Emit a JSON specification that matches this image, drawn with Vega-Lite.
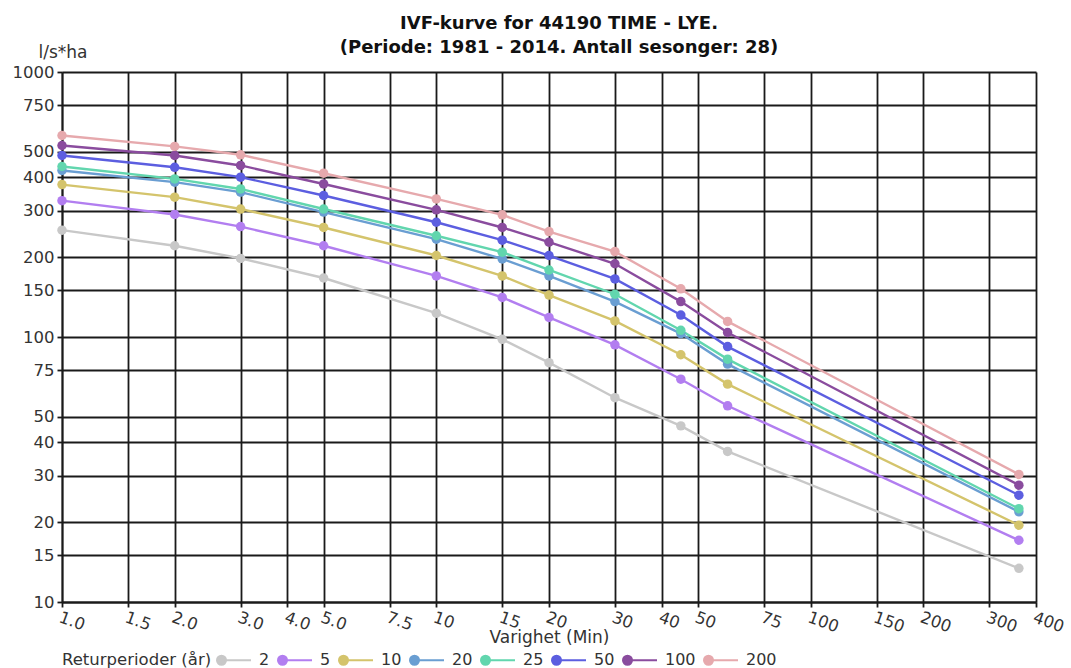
{
  "$schema": "https://vega.github.io/schema/vega-lite/v6.json",
  "width": 974,
  "height": 530,
  "autosize": {"type": "none"},
  "padding": {"left": 62, "top": 72, "right": 35, "bottom": 66},
  "background": "white",
  "title": {
    "text": ["IVF-kurve for 44190 TIME - LYE.", "(Periode: 1981 - 2014. Antall sesonger: 28)"],
    "anchor": "middle",
    "dx": 10,
    "offset": -14,
    "font": "DejaVu Sans",
    "fontSize": 18,
    "fontWeight": "bold",
    "color": "#111",
    "lineHeight": 24
  },
  "data": {
    "values": [
      {"d": 1, "rp": 2, "v": 253}, {"d": 2, "rp": 2, "v": 221}, {"d": 3, "rp": 2, "v": 198}, {"d": 5, "rp": 2, "v": 167}, {"d": 10, "rp": 2, "v": 123}, {"d": 15, "rp": 2, "v": 98}, {"d": 20, "rp": 2, "v": 80}, {"d": 30, "rp": 2, "v": 59}, {"d": 45, "rp": 2, "v": 46.2}, {"d": 60, "rp": 2, "v": 37}, {"d": 360, "rp": 2, "v": 13.4},
      {"d": 1, "rp": 5, "v": 327}, {"d": 2, "rp": 5, "v": 290}, {"d": 3, "rp": 5, "v": 261}, {"d": 5, "rp": 5, "v": 221}, {"d": 10, "rp": 5, "v": 170}, {"d": 15, "rp": 5, "v": 141}, {"d": 20, "rp": 5, "v": 118.5}, {"d": 30, "rp": 5, "v": 93.4}, {"d": 45, "rp": 5, "v": 69.3}, {"d": 60, "rp": 5, "v": 55}, {"d": 360, "rp": 5, "v": 17.1},
      {"d": 1, "rp": 10, "v": 376}, {"d": 2, "rp": 10, "v": 337}, {"d": 3, "rp": 10, "v": 304}, {"d": 5, "rp": 10, "v": 259}, {"d": 10, "rp": 10, "v": 203}, {"d": 15, "rp": 10, "v": 170}, {"d": 20, "rp": 10, "v": 144}, {"d": 30, "rp": 10, "v": 115}, {"d": 45, "rp": 10, "v": 85.7}, {"d": 60, "rp": 10, "v": 66.4}, {"d": 360, "rp": 10, "v": 19.5},
      {"d": 1, "rp": 20, "v": 425}, {"d": 2, "rp": 20, "v": 384}, {"d": 3, "rp": 20, "v": 352}, {"d": 5, "rp": 20, "v": 296}, {"d": 10, "rp": 20, "v": 234}, {"d": 15, "rp": 20, "v": 197}, {"d": 20, "rp": 20, "v": 170}, {"d": 30, "rp": 20, "v": 136}, {"d": 45, "rp": 20, "v": 103}, {"d": 60, "rp": 20, "v": 79}, {"d": 360, "rp": 20, "v": 21.9},
      {"d": 1, "rp": 25, "v": 440}, {"d": 2, "rp": 25, "v": 395}, {"d": 3, "rp": 25, "v": 362}, {"d": 5, "rp": 25, "v": 304}, {"d": 10, "rp": 25, "v": 241}, {"d": 15, "rp": 25, "v": 209}, {"d": 20, "rp": 25, "v": 179}, {"d": 30, "rp": 25, "v": 145}, {"d": 45, "rp": 25, "v": 106}, {"d": 60, "rp": 25, "v": 82.5}, {"d": 360, "rp": 25, "v": 22.5},
      {"d": 1, "rp": 50, "v": 484}, {"d": 2, "rp": 50, "v": 437}, {"d": 3, "rp": 50, "v": 401}, {"d": 5, "rp": 50, "v": 342}, {"d": 10, "rp": 50, "v": 271}, {"d": 15, "rp": 50, "v": 232}, {"d": 20, "rp": 50, "v": 203}, {"d": 30, "rp": 50, "v": 165.6}, {"d": 45, "rp": 50, "v": 121}, {"d": 60, "rp": 50, "v": 92}, {"d": 360, "rp": 50, "v": 25.3},
      {"d": 1, "rp": 100, "v": 528}, {"d": 2, "rp": 100, "v": 484}, {"d": 3, "rp": 100, "v": 444}, {"d": 5, "rp": 100, "v": 378}, {"d": 10, "rp": 100, "v": 302}, {"d": 15, "rp": 100, "v": 259}, {"d": 20, "rp": 100, "v": 228}, {"d": 30, "rp": 100, "v": 189}, {"d": 45, "rp": 100, "v": 136}, {"d": 60, "rp": 100, "v": 104}, {"d": 360, "rp": 100, "v": 27.6},
      {"d": 1, "rp": 200, "v": 576}, {"d": 2, "rp": 200, "v": 524}, {"d": 3, "rp": 200, "v": 487}, {"d": 5, "rp": 200, "v": 415}, {"d": 10, "rp": 200, "v": 332}, {"d": 15, "rp": 200, "v": 289}, {"d": 20, "rp": 200, "v": 250}, {"d": 30, "rp": 200, "v": 210}, {"d": 45, "rp": 200, "v": 152}, {"d": 60, "rp": 200, "v": 114.5}, {"d": 360, "rp": 200, "v": 30.3}
    ]
  },
  "mark": {"type": "line", "strokeWidth": 2.4, "point": {"filled": true, "size": 90, "opacity": 1}},
  "encoding": {
    "x": {
      "field": "d", "type": "quantitative",
      "scale": {"type": "log", "domain": [1, 400], "nice": false},
      "axis": {
        "values": [1, 1.5, 2, 3, 4, 5, 7.5, 10, 15, 20, 30, 40, 50, 75, 100, 150, 200, 300, 400],
        "labelExpr": "datum.value < 10 ? format(datum.value, '.1f') : format(datum.value, 'd')",
        "title": "Varighet  (Min)",
        "titleY": 35,
        "titleBaseline": "middle",
        "titleX": 487,
        "labelAngle": 20,
        "labelAlign": "left",
        "labelBaseline": "top",
        "labelPadding": 2,
        "labelOverlap": false,
        "labelFlush": false
      }
    },
    "y": {
      "field": "v", "type": "quantitative",
      "scale": {"type": "log", "domain": [10, 1000], "nice": false},
      "axis": {
        "values": [10, 15, 20, 30, 40, 50, 75, 100, 150, 200, 300, 400, 500, 750, 1000],
        "format": "d",
        "title": "l/s*ha",
        "titleAngle": 0,
        "titleAlign": "left",
        "titleBaseline": "bottom",
        "titleX": -24,
        "titleY": -11,
        "labelPadding": 3,
        "labelOverlap": false
      }
    },
    "color": {
      "field": "rp", "type": "ordinal",
      "scale": {
        "domain": [2, 5, 10, 20, 25, 50, 100, 200],
        "range": ["#c8c8c8", "#b27ef0", "#d4c46c", "#6a9ed2", "#62d6ae", "#5c5ee0", "#8a4c9e", "#e6a9ad"]
      },
      "legend": {
        "orient": "none",
        "legendX": 0,
        "legendY": 570,
        "direction": "horizontal",
        "title": "Returperioder (år)",
        "titleOrient": "left",
        "titleBaseline": "middle",
        "titleAnchor": "middle",
        "titlePadding": 4,
        "padding": 0,
        "symbolType": "M-1,0 A0.265,0.265 0 1,0 -0.47,0 A0.265,0.265 0 1,0 -1,0 Z M-0.47,0 L1,0",
        "symbolSize": 1156,
        "symbolStrokeWidth": 2,
        "labelOffset": 7,
        "columnPadding": 3,
        "encode": {
          "title": {
            "update": {"dy": {"value": 5}}
          },
          "symbols": {
            "update": {
              "fill": {"scale": "color", "field": "value"},
              "stroke": {"scale": "color", "field": "value"},
              "opacity": {"value": 1}
            }
          }
        }
      }
    }
  },
  "config": {
    "font": "DejaVu Sans",
    "view": {"stroke": null},
    "axis": {
      "grid": true,
      "gridColor": "#1a1a1a",
      "gridWidth": 1.8,
      "gridOpacity": 1,
      "domainColor": "#1a1a1a",
      "domainWidth": 1.8,
      "tickColor": "#1a1a1a",
      "tickWidth": 1.8,
      "tickSize": 5,
      "labelFont": "DejaVu Sans",
      "labelFontSize": 16.5,
      "labelColor": "#333",
      "titleFont": "DejaVu Sans",
      "titleFontSize": 17,
      "titleFontWeight": "normal",
      "titleColor": "#333"
    },
    "legend": {
      "labelFont": "DejaVu Sans",
      "labelFontSize": 16,
      "labelColor": "#333",
      "titleFont": "DejaVu Sans",
      "titleFontSize": 16.5,
      "titleFontWeight": "normal",
      "titleColor": "#333"
    }
  }
}
